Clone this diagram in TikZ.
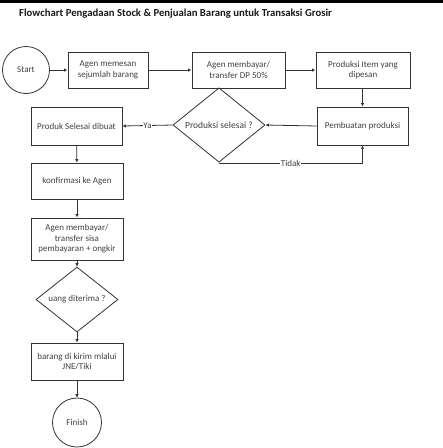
\documentclass[tikz,border=0pt]{standalone}
\usepackage{fontspec}
\setmainfont{Carlito}
\usetikzlibrary{shapes.geometric,arrows.meta}
\definecolor{ln}{HTML}{333333}
\definecolor{tx}{HTML}{404040}
\tikzset{
  proc/.style={draw=ln, line width=0.9pt, rectangle, inner sep=0pt, align=center, text=tx, font=\fontsize{9}{10.5}\selectfont},
  term/.style={draw=ln, line width=0.8pt, circle, inner sep=0pt, text=tx, font=\fontsize{9}{10}\selectfont},
  dec/.style={draw=ln, line width=0.8pt, diamond, inner sep=0pt, text=tx, font=\fontsize{9}{10}\selectfont},
  conn/.style={draw=ln, line width=0.8pt, -{Latex[length=3.5pt,width=3.5pt]}},
  lbl/.style={fill=white, inner sep=0.5pt, text=tx, font=\fontsize{9}{10}\selectfont}
}
\begin{document}
\begin{tikzpicture}[x=1pt,y=-1pt]
\useasboundingbox (0,0) rectangle (443,448);
\fill[black] (0,0) rectangle (443,3);
\node[anchor=west, font=\fontsize{10.7}{12}\bfseries, text=black!90, inner sep=0pt] (title) at (19,14) {Flowchart Pengadaan Stock \& Penjualan Barang untuk Transaksi Grosir};

\node[term, minimum size=47pt] (start) at (26,70) {Start};
\node[proc, minimum width=80pt, minimum height=36pt] (b1) at (108,70) {Agen memesan\\sejumlah barang};
\node[proc, minimum width=93pt, minimum height=36pt] (b2) at (238.5,70) {Agen membayar/\\transfer DP 50\%};
\node[proc, minimum width=94pt, minimum height=36pt] (b3) at (363,70) {Produksi Item yang\\dipesan};

\node[proc, minimum width=91pt, minimum height=38pt] (pb) at (362.5,126) {Pembuatan produksi};
\node[dec, minimum width=92pt, minimum height=47pt, font=\fontsize{9.5}{10}\selectfont] (d1) at (219,125) {Produksi selesai ?};
\node[proc, minimum width=91pt, minimum height=38pt] (ps) at (76.5,126) {Produk Selesai dibuat};

\node[proc, minimum width=92pt, minimum height=36pt] (kf) at (77,181) {konfirmasi ke Agen};
\node[proc, minimum width=92pt, minimum height=42pt] (am) at (77,239) {Agen membayar/\\transfer sisa\\pembayaran + ongkir};
\node[dec, minimum width=82pt, minimum height=45pt] (d2) at (77,299.5) {uang diterima ?};
\node[proc, minimum width=92pt, minimum height=37pt] (bk) at (77,361.5) {barang di kirim mlalui\\JNE/Tiki};
\node[term, minimum size=49pt] (fin) at (77,422.5) {Finish};

\coordinate (t1) at (d1.south |- 0,163);
\coordinate (t2) at (pb.south |- 0,163);

\draw[conn] (start) -- (b1);
\draw[conn] (b1) -- (b2);
\draw[conn] (b2) -- (b3);
\draw[conn] (b3.south -| pb.north) -- (pb.north);
\draw[conn] (pb.west) -- (d1.east);
\draw[conn] (d1.west) -- node[lbl] {Ya} (ps.east);
\draw[conn] (d1.south) -- (t1) -- node[lbl] {Tidak} (t2) -- (pb.south);
\draw[conn] (ps) -- (kf);
\draw[conn] (kf) -- (am);
\draw[conn] (am) -- (d2);
\draw[conn] (d2) -- (bk);
\draw[conn] (bk) -- (fin);
\end{tikzpicture}
\end{document}
